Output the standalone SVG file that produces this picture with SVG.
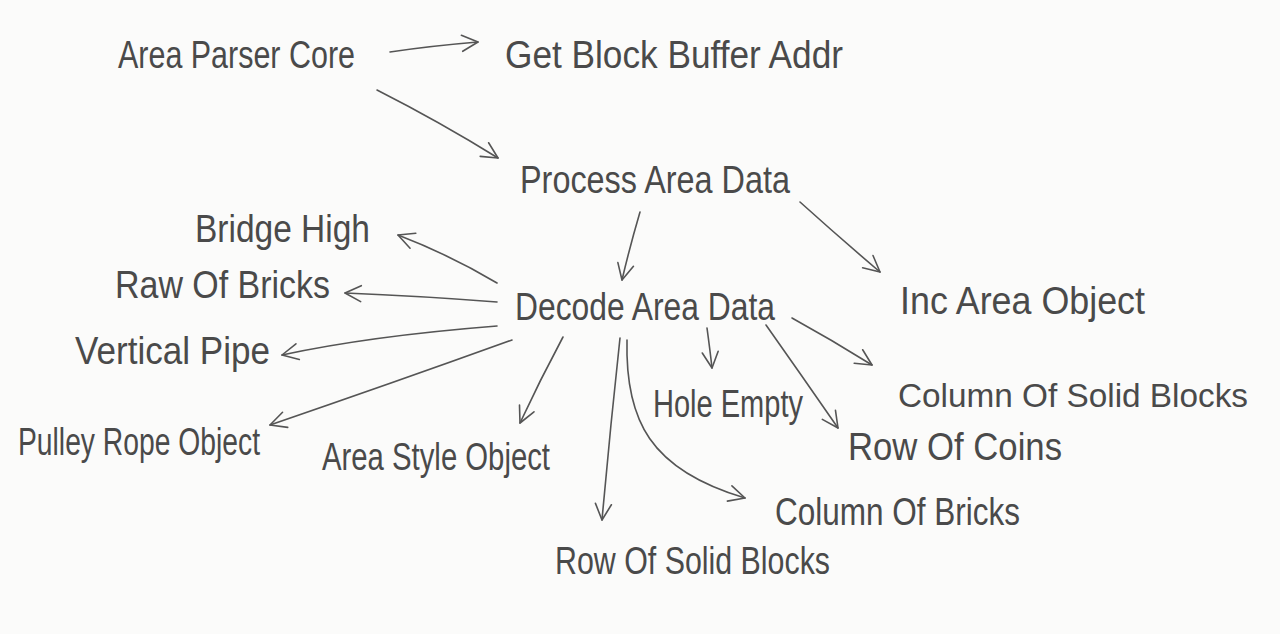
<svg xmlns="http://www.w3.org/2000/svg" width="1280" height="634" viewBox="0 0 1280 634">
<style>
.t{font-family:"Liberation Sans","DejaVu Sans",sans-serif;font-size:38px;fill:#4a4a4a;}
.s{font-size:34px;}
.c path{fill:none;stroke:#555;stroke-width:1.6;stroke-linecap:round;marker-end:url(#ah);}
</style>
<defs>
<marker id="ah" viewBox="0 0 20 20" refX="18" refY="10" markerWidth="20" markerHeight="20" markerUnits="userSpaceOnUse" orient="auto">
<path d="M2,2 L18,10 L2,18" fill="none" stroke="#555" stroke-width="1.6" stroke-linecap="round" stroke-linejoin="round"/>
</marker>
</defs>
<rect width="1280" height="634" fill="#fbfbfa"/>
<g class="c" id="connectors">
<path d="M390,52 Q430,46 478,42"/>
<path d="M377,90 Q440,122 498,158"/>
<path d="M640,212 Q630,246 622,280"/>
<path d="M800,202 Q840,238 880,272"/>
<path d="M497,283 Q450,255 398,235"/>
<path d="M497,302 Q420,296 345,293"/>
<path d="M497,326 Q370,336 282,355"/>
<path d="M512,340 Q390,384 270,425"/>
<path d="M563,337 Q540,380 520,423"/>
<path d="M620,338 Q610,430 602,520"/>
<path d="M627,340 C625,420 650,470 745,498"/>
<path d="M707,328 Q710,350 712,368"/>
<path d="M766,325 Q802,376 838,428"/>
<path d="M792,318 Q832,340 872,365"/>
</g>
<g id="n-area-parser-core"><text class="t" x="118" y="68" textLength="237" lengthAdjust="spacingAndGlyphs">Area Parser Core</text></g>
<g id="n-get-block-buffer-addr"><text class="t" x="505" y="68" textLength="338" lengthAdjust="spacingAndGlyphs">Get Block Buffer Addr</text></g>
<g id="n-process-area-data"><text class="t" x="520" y="193" textLength="270" lengthAdjust="spacingAndGlyphs">Process Area Data</text></g>
<g id="n-bridge-high"><text class="t" x="195" y="242" textLength="175" lengthAdjust="spacingAndGlyphs">Bridge High</text></g>
<g id="n-row-of-bricks"><text class="t" x="115" y="298" textLength="215" lengthAdjust="spacingAndGlyphs">Raw Of Bricks</text></g>
<g id="n-vertical-pipe"><text class="t" x="75" y="364" textLength="195" lengthAdjust="spacingAndGlyphs">Vertical Pipe</text></g>
<g id="n-pulley-rope-object"><text class="t" x="18" y="455" textLength="242" lengthAdjust="spacingAndGlyphs">Pulley Rope Object</text></g>
<g id="n-area-style-object"><text class="t" x="322" y="470" textLength="228" lengthAdjust="spacingAndGlyphs">Area Style Object</text></g>
<g id="n-decode-area-data"><text class="t" x="515" y="320" textLength="260" lengthAdjust="spacingAndGlyphs">Decode Area Data</text></g>
<g id="n-hole-empty"><text class="t" x="653" y="417" textLength="150" lengthAdjust="spacingAndGlyphs">Hole Empty</text></g>
<g id="n-inc-area-object"><text class="t" x="900" y="314" textLength="245" lengthAdjust="spacingAndGlyphs">Inc Area Object</text></g>
<g id="n-column-of-solid-blocks"><text class="t s" x="898" y="407" textLength="350" lengthAdjust="spacingAndGlyphs">Column Of Solid Blocks</text></g>
<g id="n-row-of-coins"><text class="t" x="848" y="460" textLength="214" lengthAdjust="spacingAndGlyphs">Row Of Coins</text></g>
<g id="n-column-of-bricks"><text class="t" x="775" y="525" textLength="245" lengthAdjust="spacingAndGlyphs">Column Of Bricks</text></g>
<g id="n-row-of-solid-blocks"><text class="t" x="555" y="574" textLength="275" lengthAdjust="spacingAndGlyphs">Row Of Solid Blocks</text></g>
</svg>
